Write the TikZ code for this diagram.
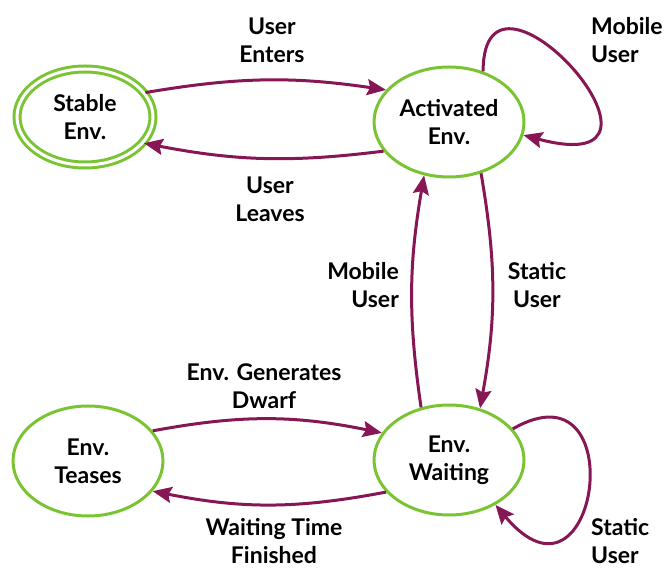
\documentclass[tikz,border=0pt]{standalone}
\usepackage{fontspec}
\setmainfont{Lato}
\usetikzlibrary{arrows.meta,shapes.geometric}
\definecolor{stategreen}{RGB}{122,196,52}
\definecolor{transpurple}{RGB}{134,22,84}

\begin{document}
\begin{tikzpicture}[x=1pt,y=1pt,
    state/.style={shape=ellipse,draw=stategreen,line width=3pt,inner sep=0pt,
      minimum width=150pt,minimum height=110pt,align=center,
      font=\fontsize{23}{28}\selectfont\bfseries},
    translabel/.style={align=center,inner sep=0pt,font=\fontsize{23}{28}\selectfont\bfseries},
    >={Stealth[length=19pt,width=16pt,inset=3pt]},
    every edge/.style={draw=transpurple,line width=3pt}]
    \useasboundingbox (0,0) rectangle (666,570);
    \node[state,double=white,double distance=3pt,minimum width=136pt,minimum height=96pt] (stable) at (85,453) {Stable\\Env.};
    \node[state] (act) at (449,448) {Activated\\Env.};
    \node[state] (wait) at (449,110) {Env.\\Waiting};
    \node[state] (teases) at (88,109) {Env.\\Teases};
    \path [->] (stable.22) edge[bend left=9] (act.153);
    \path [->] (act.204) edge[bend left=9] (stable.-24);
    \path [->] (wait.118) edge[bend left=9] (act.245);
    \path [->] (act.-58) edge[bend left=10] (wait.59);
    \path [->] (act.56) edge[out=90,in=-15,out distance=140pt,in distance=190pt] (act.-10);
    \path [->] (wait.26) edge[out=30,in=-50,out distance=140pt,in distance=160pt] (wait.-44);
    \path [->] (teases.25) edge[bend left=11] (wait.158);
    \path [->] (wait.207) edge[bend left=11] (teases.-25);
    \node[translabel] (enters) at (272,530) {User\\Enters};
    \node[translabel] (leaves) at (270,371) {User\\Leaves};
    \node[translabel,anchor=east,align=right] (mobileup) at (399,285) {Mobile\\User};
    \node[translabel] (staticdown) at (537,285) {Static\\User};
    \node[translabel,anchor=west,align=left] (mobileloop) at (591,530) {Mobile\\User};
    \node[translabel,anchor=west,align=left] (staticloop) at (591,29) {Static\\User};
    \node[translabel] (dwarf) at (264,184) {Env. Generates\\Dwarf};
    \node[translabel] (finished) at (274,29) {Waiting Time\\Finished};
\end{tikzpicture}
\end{document}
